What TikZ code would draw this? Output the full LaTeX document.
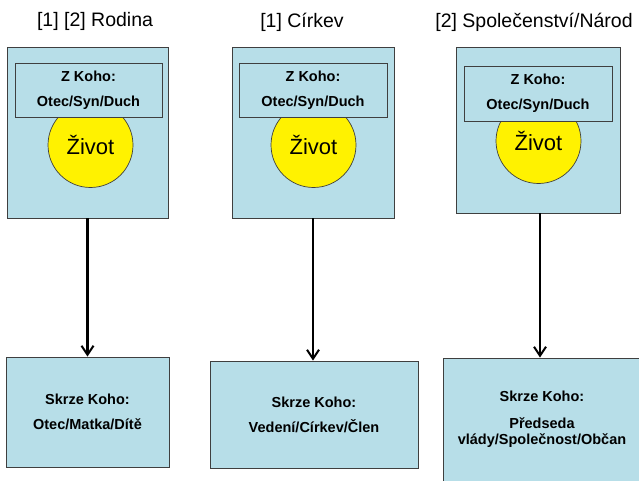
\documentclass[tikz,border=0pt]{standalone}
\usepackage{fontspec}
\setmainfont{Liberation Sans}
\usetikzlibrary{arrows.meta}
\definecolor{aqua}{HTML}{B7DEE8}
\definecolor{edge}{HTML}{3F3F3F}
\begin{document}
\begin{tikzpicture}[x=1pt,y=-1pt,
  panel/.style={draw=edge, fill=aqua, line width=0.9pt, inner sep=0pt},
  lbl/.style={font=\fontsize{14.5}{25}\selectfont\bfseries, align=center},
  ttl/.style={font=\fontsize{19.5}{22}\selectfont, inner sep=0pt},
  life/.style={circle, draw=edge, line width=0.7pt, fill=yellow, minimum size=85pt, inner sep=0pt, font=\fontsize{22}{24}\selectfont},
  flow/.style={-{Straight Barb[length=9pt,width=12pt,line width=2pt]}, line width=2.6pt}]
\useasboundingbox (0,0) rectangle (639,481);
% titles
\node[ttl] (h1) at (95,21) {[1] [2] Rodina};
\node[ttl] (h2) at (302,22) {[1] Církev};
\node[ttl] (h3) at (534,22) {[2] Společenství/Národ};
% top panels
\node[panel, minimum width=161pt, minimum height=171pt] (t1) at (87.5,132.5) {};
\node[panel, minimum width=162pt, minimum height=171pt] (t2) at (313,132.5) {};
\node[panel, minimum width=164pt, minimum height=166pt] (t3) at (538,130) {};
% circles
\node[life] (c1) at (90.5,145) {Život};
\node[life] (c2) at (313.5,145) {Život};
\node[life] (c3) at (538.5,141) {Život};
% inner boxes
\node[panel, lbl, minimum width=147pt, minimum height=54pt] (z1) at (88.5,90) {Z Koho:\\Otec/Syn/Duch};
\node[panel, lbl, minimum width=148pt, minimum height=54pt] (z2) at (313,90) {Z Koho:\\Otec/Syn/Duch};
\node[panel, lbl, minimum width=148pt, minimum height=55pt] (z3) at (538,93.5) {Z Koho:\\Otec/Syn/Duch};
% bottom panels
\node[panel, lbl, minimum width=163pt, minimum height=110pt] (b1) at (87.5,412) {Skrze Koho:\\Otec/Matka/Dítě};
\node[panel, lbl, minimum width=208pt, minimum height=107pt] (b2) at (314,414.5) {Skrze Koho:\\Vedení/Církev/Člen};
\node[panel, minimum width=198pt, minimum height=142pt] (b3) at (542,429) {};
\node[lbl, font=\fontsize{14.5}{16}\selectfont\bfseries] (b3t) at (542,419) {Skrze Koho:\\[11pt]Předseda\\vlády/Společnost/Občan};
% arrows
\draw[flow] (t1.south) -- (t1.south |- b1.north);
\draw[flow] (t2.south) -- (t2.south |- b2.north);
\draw[flow] ([xshift=2pt]t3.south) -- ([xshift=2pt]t3.south |- b3.north);
\end{tikzpicture}
\end{document}
